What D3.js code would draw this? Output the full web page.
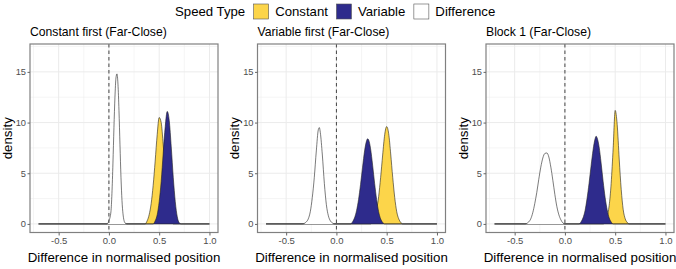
<!DOCTYPE html>
<html>
<head>
<meta charset="utf-8">
<script src="https://cdn.jsdelivr.net/npm/d3@7"></script>
<style>
  body { margin: 0; background: #fff; }
  text { font-family: "Liberation Sans", Arial, sans-serif; }
</style>
</head>
<body>
<div class="container"></div>
<script>
const panelTitles = ["Constant first (Far-Close)", "Variable first (Far-Close)", "Block 1 (Far-Close)"];
const speedTypes = ["Constant", "Variable", "Difference"];
const speedColors = ["#FCD54A", "#2E2B8C", "#FFFFFF"];
const xTicks = [-0.5, 0, 0.5, 1.0];
const xMinor = [-0.75, -0.25, 0.25, 0.75];
const yTicks = [0, 5, 10, 15];
const yMinor = [2.5, 7.5, 12.5, 17.5];
const densityRange = [-0.7, 1.0];

// [position, density]
const constFirstConstant = [[0.36, 0], [0.38, 0.3], [0.40, 0.9], [0.42, 2.0], [0.44, 3.8], [0.46, 6.2], [0.48, 8.8], [0.50, 10.5], [0.52, 10.0], [0.54, 7.8], [0.56, 5.0], [0.58, 2.6], [0.60, 1.0], [0.62, 0.3], [0.64, 0]];
const constFirstVariable = [[0.44, 0], [0.46, 0.3], [0.48, 0.9], [0.50, 2.2], [0.52, 4.2], [0.54, 7.0], [0.56, 9.6], [0.58, 11.1], [0.60, 10.2], [0.62, 7.6], [0.64, 4.6], [0.66, 2.2], [0.68, 0.7], [0.70, 0.1], [0.72, 0]];
const constFirstDifference = [[-0.02, 0], [0.0, 0.3], [0.02, 1.2], [0.03, 3.0], [0.04, 6.0], [0.05, 9.5], [0.06, 12.5], [0.07, 14.4], [0.08, 14.8], [0.09, 13.8], [0.10, 11.2], [0.11, 7.8], [0.12, 4.6], [0.13, 2.3], [0.14, 1.0], [0.15, 0.35], [0.16, 0.1], [0.18, 0]];

const varFirstConstant = [[0.34, 0], [0.36, 0.2], [0.38, 0.6], [0.40, 1.4], [0.42, 2.7], [0.44, 4.6], [0.46, 6.8], [0.48, 8.8], [0.50, 9.6], [0.52, 8.9], [0.54, 6.9], [0.56, 4.6], [0.58, 2.6], [0.60, 1.2], [0.62, 0.5], [0.64, 0.15], [0.66, 0]];
const varFirstVariable = [[0.14, 0], [0.16, 0.2], [0.18, 0.6], [0.20, 1.3], [0.22, 2.4], [0.24, 3.9], [0.26, 5.6], [0.28, 7.2], [0.30, 8.2], [0.31, 8.4], [0.32, 8.3], [0.34, 7.4], [0.36, 5.8], [0.38, 4.0], [0.40, 2.4], [0.42, 1.2], [0.44, 0.5], [0.46, 0.15], [0.48, 0]];
const varFirstDifference = [[-0.34, 0], [-0.30, 0.2], [-0.28, 0.5], [-0.26, 1.2], [-0.24, 2.6], [-0.22, 4.6], [-0.20, 7.2], [-0.18, 9.3], [-0.17, 9.5], [-0.16, 9.0], [-0.14, 6.8], [-0.12, 4.0], [-0.10, 1.9], [-0.08, 0.8], [-0.06, 0.3], [-0.04, 0.1], [-0.02, 0]];

const block1Constant = [[0.38, 0], [0.40, 0.2], [0.42, 0.7], [0.44, 1.8], [0.46, 4.0], [0.48, 7.5], [0.50, 11.2], [0.52, 9.8], [0.54, 6.4], [0.56, 3.4], [0.58, 1.4], [0.60, 0.5], [0.62, 0.15], [0.64, 0]];
const block1Variable = [[0.14, 0], [0.16, 0.2], [0.18, 0.6], [0.20, 1.3], [0.22, 2.5], [0.24, 4.0], [0.26, 5.7], [0.28, 7.3], [0.30, 8.4], [0.31, 8.65], [0.32, 8.5], [0.34, 7.6], [0.36, 6.0], [0.38, 4.2], [0.40, 2.6], [0.42, 1.4], [0.44, 0.6], [0.46, 0.2], [0.48, 0]];
const block1Difference = [[-0.40, 0], [-0.36, 0.2], [-0.34, 0.5], [-0.32, 1.1], [-0.30, 2.0], [-0.28, 3.1], [-0.26, 4.4], [-0.24, 5.6], [-0.22, 6.5], [-0.20, 6.95], [-0.18, 7.0], [-0.16, 6.6], [-0.14, 5.6], [-0.12, 4.3], [-0.10, 2.9], [-0.08, 1.7], [-0.06, 0.9], [-0.04, 0.4], [-0.02, 0.1], [0.0, 0]];

const panelSeries = [
  [constFirstConstant, constFirstVariable, constFirstDifference],
  [varFirstConstant, varFirstVariable, varFirstDifference],
  [block1Constant, block1Variable, block1Difference]
];

const W = 676, H = 269;
const panelLeft = [30, 257.5, 486];
const panelTop = 44, panelW = 188, panelH = 188.5;

const x = d3.scaleLinear().domain([-0.785, 1.085]).range([0, panelW]);
const y = d3.scaleLinear().domain([-0.845, 17.75]).range([panelH, 0]);

const svg = d3.select(".container").append("svg")
  .attr("width", W).attr("height", H);

// legend
const legend = svg.append("g").attr("class", "legend");
let lx = 175;
const lt = legend.append("text").attr("x", lx).attr("y", 15.5)
  .attr("font-size", 13.2).attr("fill", "#000").text("Speed Type");
lx += lt.node().getComputedTextLength() + 8.5;
speedTypes.forEach((s, i) => {
  legend.append("rect").attr("x", lx).attr("y", 4).attr("width", 15).attr("height", 15)
    .attr("fill", speedColors[i]).attr("stroke", "#555").attr("stroke-width", 0.6);
  lx += 15 + 6.5;
  const t = legend.append("text").attr("x", lx).attr("y", 15.5)
    .attr("font-size", 13.2).attr("fill", "#000").text(s);
  lx += t.node().getComputedTextLength() + 8.5;
});

const area = d3.area()
  .x(d => x(d[0]))
  .y0(y(0))
  .y1(d => y(d[1]))
  .curve(d3.curveMonotoneX);
const line = d3.line()
  .x(d => x(d[0]))
  .y(d => y(d[1]))
  .curve(d3.curveMonotoneX);

panelTitles.forEach((title, p) => {
  const g = svg.append("g").attr("transform", `translate(${panelLeft[p]},${panelTop})`);

  svg.append("text").attr("x", panelLeft[p]).attr("y", 36)
    .attr("font-size", 12.2).attr("fill", "#000").text(title);

  // grid
  g.selectAll(".xminor").data(xMinor).enter().append("line")
    .attr("x1", d => x(d)).attr("x2", d => x(d)).attr("y1", 0).attr("y2", panelH)
    .attr("stroke", "#EBEBEB").attr("stroke-width", 0.5);
  g.selectAll(".yminor").data(yMinor).enter().append("line")
    .attr("x1", 0).attr("x2", panelW).attr("y1", d => y(d)).attr("y2", d => y(d))
    .attr("stroke", "#EBEBEB").attr("stroke-width", 0.5);
  g.selectAll(".xmajor").data(xTicks).enter().append("line")
    .attr("x1", d => x(d)).attr("x2", d => x(d)).attr("y1", 0).attr("y2", panelH)
    .attr("stroke", "#EBEBEB").attr("stroke-width", 1);
  g.selectAll(".ymajor").data(yTicks).enter().append("line")
    .attr("x1", 0).attr("x2", panelW).attr("y1", d => y(d)).attr("y2", d => y(d))
    .attr("stroke", "#EBEBEB").attr("stroke-width", 1);

  // densities (full range so the zero line shows)
  panelSeries[p].forEach((pts, i) => {
    const full = [[densityRange[0], 0]].concat(pts, [[densityRange[1], 0]]);
    g.append("path").datum(full).attr("d", area)
      .attr("fill", speedColors[i]);
    g.append("path").datum(full).attr("d", line)
      .attr("fill", "none").attr("stroke", "#222").attr("stroke-width", 0.6);
  });

  // zero reference
  g.append("line").attr("x1", x(0)).attr("x2", x(0)).attr("y1", 0).attr("y2", panelH)
    .attr("stroke", "#444").attr("stroke-width", 1).attr("stroke-dasharray", "3.5,3");

  // border
  g.append("rect").attr("width", panelW).attr("height", panelH)
    .attr("fill", "none").attr("stroke", "#808080").attr("stroke-width", 1.2);

  // axes
  const xAxis = g.append("g").attr("transform", `translate(0,${panelH})`)
    .call(d3.axisBottom(x).tickValues(xTicks).tickFormat(d3.format(".1f")).tickSize(3).tickPadding(1.5));
  const yAxis = g.append("g")
    .call(d3.axisLeft(y).tickValues(yTicks).tickFormat(d3.format("d")).tickSize(2.5).tickPadding(1.5));
  [xAxis, yAxis].forEach(a => {
    a.select(".domain").remove();
    a.selectAll(".tick line").attr("stroke", "#666");
    a.selectAll(".tick text").attr("fill", "#4D4D4D").attr("font-size", 9.3)
      .style("font-family", "'Liberation Sans', Arial, sans-serif");
  });
  xAxis.selectAll(".tick text").attr("font-size", 9.5)
    .text(d => d3.format(".1f")(d).replace("−", "-"));

  g.append("text").attr("x", panelW / 2).attr("y", 218)
    .attr("text-anchor", "middle").attr("font-size", 13.3).attr("fill", "#000")
    .text("Difference in normalised position");
  g.append("text")
    .attr("transform", `translate(-18.5,${panelH / 2}) rotate(-90)`)
    .attr("text-anchor", "middle").attr("font-size", 13.3).attr("fill", "#000")
    .text("density");
});
</script>
</body>
</html>
